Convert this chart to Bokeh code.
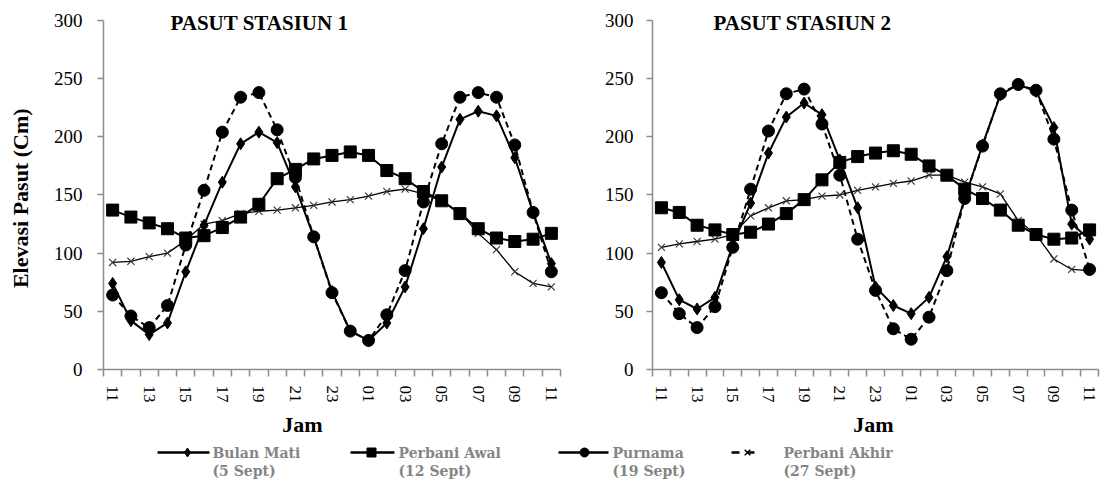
import math
from bokeh.plotting import figure
from bokeh.models import FixedTicker, Label, Range1d
from bokeh.layouts import row, column
from bokeh.embed import file_html
from bokeh.resources import INLINE
from bokeh.core.properties import value

hours = ["11", "12", "13", "14", "15", "16", "17", "18", "19", "20", "21", "22", "23",
         "00", "01", "02", "03", "04", "05", "06", "07", "08", "09", "10", "11"]

# Stasiun 1
bulan_mati_1 = [74, 42, 30, 40, 84, 124, 161, 194, 204, 195, 157, 114, 67, 33, 25, 40, 71, 121, 174, 215, 222, 218, 182, 135, 91]
perbani_awal_1 = [137, 131, 126, 121, 113, 115, 122, 131, 142, 164, 172, 181, 184, 187, 184, 171, 164, 153, 145, 134, 121, 113, 110, 112, 117]
purnama_1 = [64, 46, 36, 55, 107, 154, 204, 234, 238, 206, 165, 114, 66, 33, 25, 47, 85, 144, 194, 234, 238, 234, 193, 135, 84]
perbani_akhir_1 = [92, 93, 97, 100, 111, 125, 128, 134, 136, 137, 139, 141, 144, 146, 149, 153, 155, 151, 145, 135, 117, 103, 84, 74, 71]

# Stasiun 2
bulan_mati_2 = [92, 60, 52, 62, 107, 143, 186, 217, 229, 219, 180, 139, 71, 55, 48, 62, 97, 147, 193, 236, 245, 239, 208, 125, 112]
perbani_awal_2 = [139, 135, 124, 120, 116, 118, 125, 134, 146, 163, 178, 183, 186, 188, 185, 175, 167, 155, 147, 137, 124, 116, 112, 113, 120]
purnama_2 = [66, 48, 36, 54, 105, 155, 205, 237, 241, 211, 167, 112, 68, 35, 26, 45, 85, 147, 192, 237, 245, 240, 198, 137, 86]
perbani_akhir_2 = [105, 108, 110, 112, 116, 132, 139, 145, 146, 149, 150, 154, 157, 160, 162, 167, 167, 161, 157, 151, 128, 116, 95, 86, 85]

titles = ["PASUT STASIUN 1", "PASUT STASIUN 2"]
y_ticks = [0, 50, 100, 150, 200, 250, 300]
y_title = "Elevasi Pasut (Cm)"
x_title = "Jam"

legend_labels = [("Bulan Mati", "(5 Sept)"), ("Perbani Awal", "(12 Sept)"),
                 ("Purnama", "(19 Sept)"), ("Perbani Akhir", "(27 Sept)")]

SERIF = "Liberation Serif"
AXIS_GRAY = "#8c8c8c"
CHART_H = 405
BORDER_TOP = 4
BORDER_BOTTOM = 35
FRAME_H = CHART_H - BORDER_TOP - BORDER_BOTTOM          # 366 px
PX_PER_UNIT = 350 / 300                                   # 300 units over 350 px
Y_TOP = 300 + (FRAME_H - 350) / PX_PER_UNIT               # head room for the title


def make_chart(title, bm, pa, pn, pk, width, border_left, border_right, label_std, title_x):
    x = list(range(len(hours)))
    p = figure(width=width, height=CHART_H, output_backend="svg", toolbar_location=None,
               x_range=Range1d(-0.5, len(hours) - 0.5), y_range=Range1d(0, Y_TOP),
               min_border_left=border_left, min_border_right=border_right,
               min_border_top=BORDER_TOP, min_border_bottom=BORDER_BOTTOM)
    p.outline_line_color = None
    p.grid.visible = False
    p.background_fill_color = "white"
    p.border_fill_color = "white"

    # y axis
    ya = p.yaxis[0]
    ya.ticker = FixedTicker(ticks=y_ticks)
    ya.bounds = (0, 300)
    ya.axis_line_color = AXIS_GRAY
    ya.axis_line_width = 1.5
    ya.major_tick_line_color = AXIS_GRAY
    ya.major_tick_line_width = 1.5
    ya.major_tick_out = 6
    ya.major_tick_in = 0
    ya.minor_tick_line_color = None
    ya.major_label_text_font = SERIF
    ya.major_label_text_font_size = "19px"
    ya.major_label_text_color = "black"
    ya.major_label_standoff = label_std

    # x axis
    xa = p.xaxis[0]
    xa.ticker = FixedTicker(ticks=list(range(0, len(hours), 2)),
                            minor_ticks=[i - 0.5 for i in range(len(hours) + 1)])
    xa.major_label_overrides = {i: hours[i] for i in range(0, len(hours), 2)}
    xa.major_label_orientation = "vertical"
    xa.major_label_text_font = SERIF
    xa.major_label_text_font_size = "17px"
    xa.major_label_text_color = "black"
    xa.major_tick_out = 7
    xa.major_tick_in = 0
    xa.major_label_standoff = 9
    xa.major_tick_line_color = None
    xa.minor_tick_line_color = AXIS_GRAY
    xa.minor_tick_line_width = 1.5
    xa.minor_tick_out = 7
    xa.minor_tick_in = 0
    xa.axis_line_color = AXIS_GRAY
    xa.axis_line_width = 1.5

    # series
    p.line(x, pk, line_color="black", line_width=1.3)
    p.scatter(x, pk, marker="x", size=10, line_color="#333333", line_width=1.1)

    p.line(x, pa, line_color="black", line_width=2)
    p.scatter(x, pa, marker="square", size=12, fill_color="black", line_color="black")

    p.line(x, pn, line_color="black", line_width=2, line_dash="6 4")
    p.scatter(x, pn, marker="circle", size=12, fill_color="black", line_color="black")

    p.line(x, bm, line_color="black", line_width=2)
    p.scatter(x, bm, marker="diamond", size=12, fill_color="black", line_color="black")

    # chart title inside the head room of the frame
    p.add_layout(Label(x=title_x, y=FRAME_H - 19, x_units="screen", y_units="screen", text=title,
                       text_font=SERIF, text_font_style="bold", text_font_size="21px",
                       text_color="black", text_baseline="middle"))
    return p


# y-axis title strip
yl = figure(width=40, height=CHART_H, output_backend="svg", toolbar_location=None,
            x_range=Range1d(0, 40), y_range=Range1d(0, CHART_H), min_border=0)
yl.axis.visible = False
yl.grid.visible = False
yl.outline_line_color = None
yl.text(x=[20], y=[CHART_H - 215], text=[y_title], angle=math.pi / 2,
        text_font=value(SERIF), text_font_style="bold", text_font_size="22px",
        text_color="black", text_align="center", text_baseline="middle")

p1 = make_chart(titles[0], bulan_mati_1, perbani_awal_1, purnama_1, perbani_akhir_1,
                width=533, border_left=63, border_right=13, label_std=15, title_x=67)
p2 = make_chart(titles[1], bulan_mati_2, perbani_awal_2, purnama_2, perbani_akhir_2,
                width=527, border_left=79, border_right=2, label_std=13, title_x=61)

# bottom strip: axis titles and legend (page-pixel coordinates)
LG_H = 484 - CHART_H
lg = figure(width=1100, height=LG_H, output_backend="svg", toolbar_location=None,
            x_range=Range1d(0, 1100), y_range=Range1d(0, LG_H), min_border=0)
lg.axis.visible = False
lg.grid.visible = False
lg.outline_line_color = None

lg.text(x=[302, 873], y=[484 - 424] * 2, text=[x_title, x_title],
        text_font=value(SERIF), text_font_style="bold", text_font_size="22px",
        text_color="black", text_align="center", text_baseline="middle")

line_x0 = [157, 350, 558, 731]
line_x1 = [209, 394, 608, 760]
mark_x = [187, 371, 584, 747]
text_x = [212, 398, 612, 783]
row1_y = 484 - 452
row2_y = 484 - 470
lg.segment(x0=line_x0[:3], y0=[row1_y] * 3, x1=line_x1[:3], y1=[row1_y] * 3,
           line_color="black", line_width=2.5)
lg.segment(x0=[line_x0[3]], y0=[row1_y], x1=[line_x1[3]], y1=[row1_y],
           line_color="black", line_width=2.5, line_dash="8 7")
lg.scatter([mark_x[0]], [row1_y], marker="diamond", size=9, color="black")
lg.scatter([mark_x[1]], [row1_y], marker="square", size=9, color="black")
lg.scatter([mark_x[2]], [row1_y], marker="circle", size=9, color="black")
lg.scatter([mark_x[3]], [row1_y], marker="x", size=8, line_color="black", line_width=1.5)
lg.text(x=text_x, y=[row1_y] * 4, text=[a for a, b in legend_labels],
        text_font=value("DejaVu Serif"), text_font_style="bold", text_font_size="14px",
        text_color="#858585", text_baseline="middle")
lg.text(x=text_x, y=[row2_y] * 4, text=[b for a, b in legend_labels],
        text_font=value("DejaVu Serif"), text_font_style="bold", text_font_size="14px",
        text_color="#858585", text_baseline="middle")

layout = column(row(yl, p1, p2, spacing=0), lg, spacing=0)
open("out.html", "w").write(file_html(layout, INLINE))
